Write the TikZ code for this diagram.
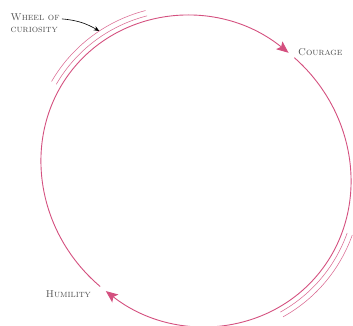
\documentclass[tikz,border=0pt]{standalone}
\usepackage{tikz}
\usetikzlibrary{arrows.meta,positioning}
\definecolor{WheelPink}{HTML}{D4507F}
\definecolor{WheelGray}{HTML}{505050}
\tikzset{
  mainarc/.style={line width=0.9pt,draw=WheelPink,-{Stealth[length=12pt,width=10pt,inset=2.5pt]}},
  echoarc/.style={line width=0.55pt,draw=WheelPink!85},
  wordlabel/.style={font=\fontsize{10}{12}\selectfont\scshape,text=WheelGray,inner sep=0pt,anchor=base west,align=left},
  pointer/.style={-{Stealth[length=5.5pt,width=4.5pt]},line width=0.6pt,draw=black}
}
\begin{document}
\begin{tikzpicture}[x=1pt,y=1pt]
\useasboundingbox (0,0) rectangle (353,325);
\coordinate (hub) at (196,154);
% tilted ellipse, cut into two arcs
\begin{scope}[shift={(hub)},rotate=-45]
\draw[mainarc] (275:160 and 150) arc[start angle=275,end angle=96.5,x radius=160,y radius=150];
\draw[mainarc] (93.8:160 and 150) arc[start angle=93.8,end angle=-82.4,x radius=160,y radius=150];
\foreach \rx/\ry in {165/155,170.5/160.5}{
  \draw[echoarc] (194:{\rx} and {\ry}) arc[start angle=194,end angle=151,x radius=\rx,y radius=\ry];
  \draw[echoarc] (-15:{\rx} and {\ry}) arc[start angle=-15,end angle=24,x radius=\rx,y radius=\ry];
}
\coordinate (curio) at (169:170.5 and 160.5);
\end{scope}
\node[wordlabel] (courage) at (298,270) {Courage};
\node[wordlabel] (humility) at (45.7,27.3) {Humility};
\node[wordlabel,anchor=north west] (wheel) at (10.5,311.1) {Wheel of\\curiosity};
\draw[pointer] ([xshift=2pt,yshift=-5pt]wheel.north east) to[out=-5,in=150] (curio);
\end{tikzpicture}
\end{document}
